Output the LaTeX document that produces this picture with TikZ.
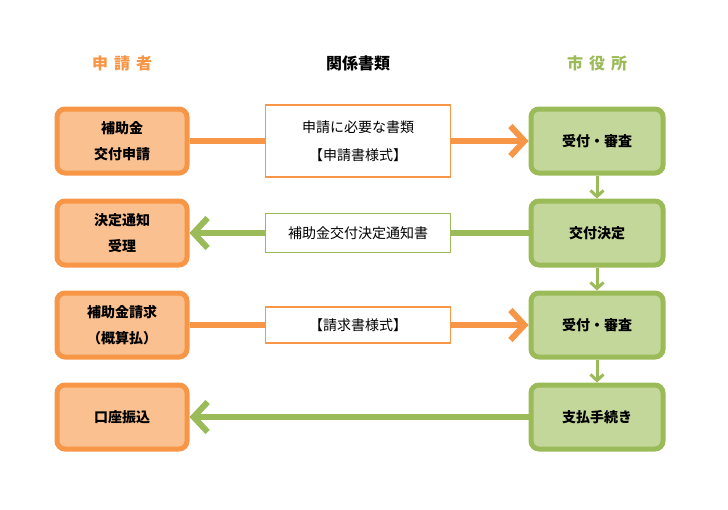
\documentclass[tikz,border=0pt]{standalone}
\usepackage{fontspec}
\setmainfont{Noto Sans CJK JP}
\usetikzlibrary{arrows.meta}
\definecolor{appOrange}{HTML}{F79646}
\definecolor{appFill}{HTML}{FAC090}
\definecolor{cityGreen}{HTML}{9BBB59}
\definecolor{cityFill}{HTML}{C4D79B}
\tikzset{
  appbox/.style={draw=appOrange, fill=appFill, line width=5pt, rounded corners=8pt,
    minimum width=130pt, minimum height=64pt, align=center, font=\bfseries\fontsize{14}{26}\selectfont},
  citybox/.style={draw=cityGreen, fill=cityFill, line width=5pt, rounded corners=8pt,
    minimum width=132pt, minimum height=64pt, align=center, font=\bfseries\fontsize{14}{26}\selectfont},
  docbox/.style={draw=#1, fill=white, line width=1.5pt, minimum width=185pt,
    align=center, font=\fontsize{14}{28}\selectfont},
  flow/.style={draw=#1, line width=6pt, -{Straight Barb[length=14pt,width=30pt,line width=6pt]}},
  link/.style={draw=#1, line width=6pt},
  nextstep/.style={draw=cityGreen, line width=3pt, -{Straight Barb[length=6pt,width=13pt,line width=3pt]}},
  head/.style={font=\bfseries\fontsize{16}{16}\selectfont}
}
\begin{document}
\begin{tikzpicture}[x=1pt, y=-1pt]
  \useasboundingbox (0,0) rectangle (728,509);

  % headers
  \node[head, text=appOrange] (hApp) at (122,63) {申\hspace{6pt}請\hspace{6pt}者};
  \node[head] (hDoc) at (358,63) {関係書類};
  \node[head, text=cityGreen] (hCity) at (597,63) {市\hspace{6pt}役\hspace{6pt}所};

  % applicant side
  \node[appbox] (a1) at (122,141) {補助金\\交付申請};
  \node[appbox] (a2) at (122,233) {決定通知\\受理};
  \node[appbox] (a3) at (122,325) {補助金請求\\（概算払）};
  \node[appbox] (a4) at (122,417) {口座振込};

  % city side
  \node[citybox] (c1) at (597,141) {受付・審査};
  \node[citybox] (c2) at (597,233) {交付決定};
  \node[citybox] (c3) at (597,325) {受付・審査};
  \node[citybox] (c4) at (597,417) {支払手続き};

  % documents
  \node[docbox=appOrange, minimum height=72pt] (d1) at (358,141) {申請に必要な書類\\【申請書様式】};
  \node[docbox=cityGreen, minimum height=39pt] (d2) at (358,233) {補助金交付決定通知書};
  \node[docbox=appOrange, minimum height=36pt] (d3) at (358,325) {【請求書様式】};

  % flows
  \draw[link=appOrange] (a1) -- (d1);
  \draw[flow=appOrange] (d1) -- (c1);
  \draw[link=cityGreen] (c2) -- (d2);
  \draw[flow=cityGreen] (d2) -- (a2);
  \draw[link=appOrange] (a3) -- (d3);
  \draw[flow=appOrange] (d3) -- (c3);
  \draw[flow=cityGreen] (c4) -- (a4);

  \draw[nextstep] (c1) -- (c2);
  \draw[nextstep] (c2) -- (c3);
  \draw[nextstep] (c3) -- (c4);
\end{tikzpicture}
\end{document}
